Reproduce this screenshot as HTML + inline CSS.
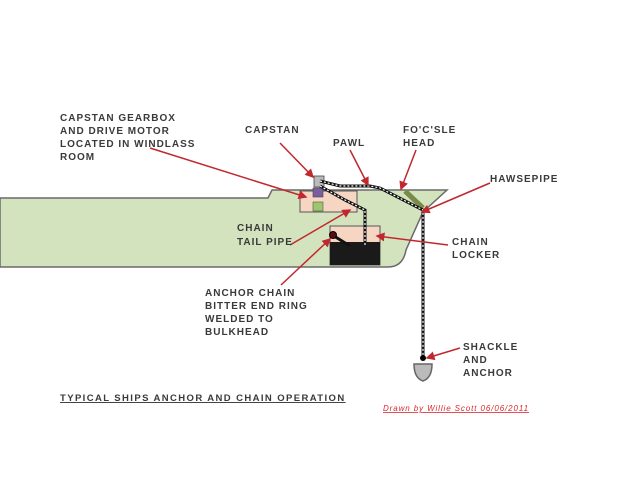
<!DOCTYPE html>
<html><head><meta charset="utf-8"><style>
html,body{margin:0;padding:0;background:#fff;}
svg{display:block}
text{font-family:"Liberation Sans",sans-serif;font-weight:bold;font-size:10px;fill:#3a3a3a;letter-spacing:1px;}
</style></head><body>
<svg width="628" height="487" viewBox="0 0 628 487">
<defs><marker id="a" markerWidth="6" markerHeight="6" refX="5" refY="3" orient="auto"><path d="M0,0 L6,3 L0,6 Z" fill="#c0282d"/></marker></defs>
<path d="M0,198 L268,198 L272,190 L447,190 L423,212 L406,250 Q403,267 388,267 L0,267 Z" fill="#d3e3bd" stroke="#6a6a6a" stroke-width="1.5"/>
<rect x="300" y="191" width="57" height="21" fill="#f6d6c2" stroke="#555" stroke-width="1"/>
<rect x="330" y="226" width="50" height="39" fill="#f6d6c2" stroke="#555" stroke-width="1"/>
<rect x="330" y="242" width="50" height="23" fill="#1a1a1a"/>
<rect x="313" y="202" width="10" height="9" fill="#9cc76a" stroke="#555" stroke-width="0.6"/>
<rect x="313" y="188" width="10" height="9" fill="#7a5fa0" stroke="#444" stroke-width="0.6"/>
<rect x="314" y="176" width="10" height="11" fill="#bbb" stroke="#444" stroke-width="0.8"/>
<path d="M405,191 L423,208" stroke="#7a8a4a" stroke-width="5" fill="none"/>
<g fill="none" stroke="#111" stroke-width="3">
<path d="M320,181 L340,186 L370,186 L380,188 L423,210 L423,356"/>
<path d="M320,186 L345,200 L365,210 L365,245"/>
<path d="M334,236 L350,246"/>
</g>
<g fill="none" stroke="#fff" stroke-width="1.2" stroke-dasharray="2,2">
<path d="M320,181 L340,186 L370,186 L380,188 L423,210 L423,356"/>
<path d="M320,186 L345,200 L365,210 L365,245"/>
</g>
<circle cx="333" cy="235" r="3.5" fill="#5a0a10" stroke="#000"/>
<circle cx="423" cy="358" r="3" fill="#000"/>
<path d="M414,364 L432,364 Q432,378 423,381 Q414,378 414,364 Z" fill="#bbb" stroke="#666" stroke-width="1.5"/>
<g stroke="#c0282d" stroke-width="1.5" fill="none" marker-end="url(#a)">
<path d="M150,148 L306,197"/>
<path d="M280,143 L313,177"/>
<path d="M350,150 L368,185"/>
<path d="M416,150 L401,189"/>
<path d="M490,183 L422,212"/>
<path d="M290,245 L350,210"/>
<path d="M448,245 L377,236"/>
<path d="M281,285 L330,239"/>
<path d="M460,348 L427,358"/>
</g>
<text x="60" y="121">CAPSTAN GEARBOX</text>
<text x="60" y="134">AND DRIVE MOTOR</text>
<text x="60" y="147">LOCATED IN WINDLASS</text>
<text x="60" y="160">ROOM</text>
<text x="245" y="133">CAPSTAN</text>
<text x="333" y="146">PAWL</text>
<text x="403" y="133">FO'C'SLE</text>
<text x="403" y="146">HEAD</text>
<text x="490" y="182">HAWSEPIPE</text>
<text x="237" y="231">CHAIN</text>
<text x="237" y="245">TAIL PIPE</text>
<text x="452" y="245">CHAIN</text>
<text x="452" y="258">LOCKER</text>
<text x="205" y="296">ANCHOR CHAIN</text>
<text x="205" y="309">BITTER END RING</text>
<text x="205" y="322">WELDED TO</text>
<text x="205" y="335">BULKHEAD</text>
<text x="463" y="350">SHACKLE</text>
<text x="463" y="363">AND</text>
<text x="463" y="376">ANCHOR</text>
<text x="60" y="401" style="font-size:9.5px;letter-spacing:1.4px;text-decoration:underline">TYPICAL SHIPS ANCHOR AND CHAIN OPERATION</text>
<text x="383" y="411" style="font-size:8px;letter-spacing:0.9px;fill:#d8282d;font-style:italic;font-weight:normal;text-decoration:underline">Drawn by Willie Scott 06/06/2011</text>
</svg>
</body></html>
